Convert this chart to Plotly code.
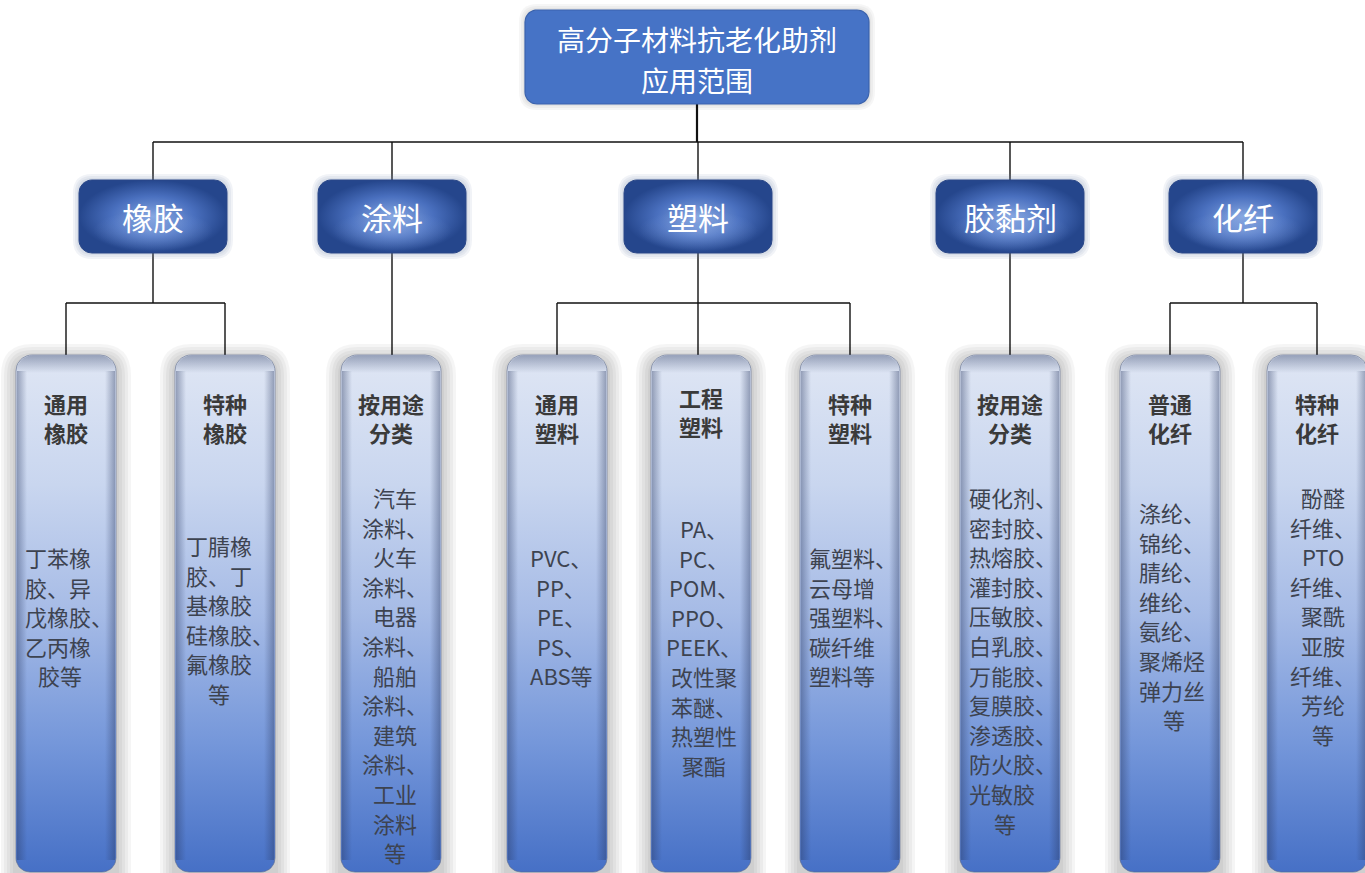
import math
import plotly.graph_objects as go

# ---------------- data ----------------
root_lines = ["高分子材料抗老化助剂", "应用范围"]
level2 = ["橡胶", "涂料", "塑料", "胶黏剂", "化纤"]
leaf_parent = [0, 0, 1, 2, 2, 2, 3, 4, 4]
leaf_headers = [
    ["通用", "橡胶"], ["特种", "橡胶"], ["按用途", "分类"],
    ["通用", "塑料"], ["工程", "塑料"], ["特种", "塑料"],
    ["按用途", "分类"], ["普通", "化纤"], ["特种", "化纤"],
]
leaf_bodies = [
    ["丁苯橡", "胶、异", "戊橡胶、", "乙丙橡", "胶等"],
    ["丁腈橡", "胶、丁", "基橡胶", "硅橡胶、", "氟橡胶", "等"],
    ["汽车", "涂料、", "火车", "涂料、", "电器", "涂料、", "船舶", "涂料、", "建筑", "涂料、", "工业", "涂料", "等"],
    ["PVC、", "PP、", "PE、", "PS、", "ABS等"],
    ["PA、", "PC、", "POM、", "PPO、", "PEEK、", "改性聚", "苯醚、", "热塑性", "聚酯"],
    ["氟塑料、", "云母增", "强塑料、", "碳纤维", "塑料等"],
    ["硬化剂、", "密封胶、", "热熔胶、", "灌封胶、", "压敏胶、", "白乳胶、", "万能胶、", "复膜胶、", "渗透胶、", "防火胶、", "光敏胶", "等"],
    ["涤纶、", "锦纶、", "腈纶、", "维纶、", "氨纶、", "聚烯烃", "弹力丝", "等"],
    ["酚醛", "纤维、", "PTO", "纤维、", "聚酰", "亚胺", "纤维、", "芳纶", "等"],
]

# ---------------- layout (pixel positions / styles) ----------------
W, H = 1365, 873
root_box = (525, 10, 869, 104)
root_cx = 697
root_line_y = [38.5, 79.5]
l2_cx = [153, 392, 698, 1010, 1243]
l2_w, l2_top, l2_bot = 148, 180, 253
bus_y1 = 142
l3_cx = [66, 225, 391, 557, 701, 850, 1010, 1170, 1317]
l3_w, l3_top, l3_bot = 100, 355, 872
bus_y2 = 303
header_y = [403, 403, 403, 403, 397, 403, 403, 403, 403]
body_y = [557, 545, 497, 557, 528, 557, 497, 512, 497]
# paragraph style: "L" = justified (left-aligned, last line centred), "C" = centred
body_mode = ["L", "L", "C", "C", "C", "L", "L", "L", "C"]
body_left = [23, 184, 0, 0, 0, 807, 967, 1137, 0]
body_center = [60, 219, 395, 561, 704, 842, 1005, 1174, 1323]
line_gap = 29.6
FONT = "Noto Sans CJK SC, Microsoft YaHei, sans-serif"


def rrect(x0, y0, x1, y1, rt, rb, n=10):
    xs, ys = [], []
    for i in range(n + 1):
        a = math.pi + (math.pi / 2) * i / n
        xs.append(x0 + rt + rt * math.cos(a)); ys.append(y0 + rt + rt * math.sin(a))
    for i in range(n + 1):
        a = 1.5 * math.pi + (math.pi / 2) * i / n
        xs.append(x1 - rt + rt * math.cos(a)); ys.append(y0 + rt + rt * math.sin(a))
    for i in range(n + 1):
        a = (math.pi / 2) * i / n
        xs.append(x1 - rb + rb * math.cos(a)); ys.append(y1 - rb + rb * math.sin(a))
    for i in range(n + 1):
        a = math.pi / 2 + (math.pi / 2) * i / n
        xs.append(x0 + rb + rb * math.cos(a)); ys.append(y1 - rb + rb * math.sin(a))
    xs.append(xs[0]); ys.append(ys[0])
    return xs, ys


def rpath(x0, y0, x1, y1, r):
    return (f"M{x0+r},{y0} L{x1-r},{y0} Q{x1},{y0} {x1},{y0+r} L{x1},{y1-r} "
            f"Q{x1},{y1} {x1-r},{y1} L{x0+r},{y1} Q{x0},{y1} {x0},{y1-r} "
            f"L{x0},{y0+r} Q{x0},{y0} {x0+r},{y0} Z")


fig = go.Figure()
shapes = []
annos = []


def line(x0, y0, x1, y1, w=1.4):
    shapes.append(dict(type="line", x0=x0, y0=y0, x1=x1, y1=y1, layer="below",
                       line=dict(color="#111111", width=w)))

# ---------------- connectors ----------------
line(root_cx, root_box[3], root_cx, bus_y1, 2.2)
line(l2_cx[0], bus_y1, l2_cx[-1], bus_y1)
for cx in l2_cx:
    line(cx, bus_y1, cx, l2_top)
for p, cx in enumerate(l2_cx):
    kids = [l3_cx[i] for i in range(len(leaf_parent)) if leaf_parent[i] == p]
    if len(kids) == 1:
        line(cx, l2_bot, cx, l3_top)
    else:
        line(cx, l2_bot, cx, bus_y2)
        line(min(kids), bus_y2, max(kids), bus_y2)
        for k in kids:
            kx = cx if abs(k - cx) < 8 else k
            line(kx, bus_y2, kx, l3_top)

# ---------------- glows ----------------
def glow(x0, y0, x1, y1, r, color, steps, step_px):
    for s in range(steps, 0, -1):
        d = s * step_px
        shapes.append(dict(type="path", path=rpath(x0 - d, y0 - d, x1 + d, y1 + d, r + d),
                           fillcolor=color, line=dict(width=0), layer="below"))

glow(*root_box, 12, "rgba(0,0,0,0.035)", 3, 2)
for cx in l2_cx:
    glow(cx - l2_w / 2, l2_top, cx + l2_w / 2, l2_bot, 13, "rgba(120,140,180,0.10)", 3, 2)
for cx in l3_cx:
    glow(cx - l3_w / 2, l3_top + 4, cx + l3_w / 2, l3_bot + 20, 16, "rgba(0,0,0,0.04)", 5, 3)

# ---------------- root box ----------------
xs, ys = rrect(*root_box, 12, 12)
fig.add_trace(go.Scatter(x=xs, y=ys, mode="lines", fill="toself", fillcolor="#4673c6",
                         line=dict(color="#3b63ad", width=1.2), hoverinfo="skip", showlegend=False))
for t, y in zip(root_lines, root_line_y):
    annos.append(dict(x=root_cx, y=y, text=t, showarrow=False,
                      xanchor="center", yanchor="middle",
                      font=dict(family=FONT, size=28, color="white")))

# ---------------- level 2 boxes ----------------
for cx, t in zip(l2_cx, level2):
    xs, ys = rrect(cx - l2_w / 2, l2_top, cx + l2_w / 2, l2_bot, 13, 13)
    fig.add_trace(go.Scatter(x=xs, y=ys, mode="lines", fill="toself",
                             fillgradient=dict(type="radial",
                                               colorscale=[[0, "#86a6e0"], [0.55, "#4a70bf"], [1, "#25468c"]]),
                             line=dict(color="#2a4788", width=1), hoverinfo="skip", showlegend=False))
    xs2, ys2 = rrect(cx - l2_w / 2 + 14, l2_top + 30, cx + l2_w / 2 - 14, l2_bot - 2, 10, 10)
    fig.add_trace(go.Scatter(x=xs2, y=ys2, mode="lines", fill="toself",
                             fillgradient=dict(type="radial",
                                               colorscale=[[0, "rgba(150,180,235,0.45)"], [1, "rgba(150,180,235,0)"]]),
                             line=dict(width=0), hoverinfo="skip", showlegend=False))
    annos.append(dict(x=cx, y=216, text=t, showarrow=False, xanchor="center", yanchor="middle",
                      font=dict(family=FONT, size=31, color="white")))

# ---------------- level 3 boxes ----------------
for i, cx in enumerate(l3_cx):
    x0, x1 = cx - l3_w / 2, cx + l3_w / 2
    xs, ys = rrect(x0, l3_top, x1, l3_bot, 16, 14)
    fig.add_trace(go.Scatter(x=xs, y=ys, mode="lines", fill="toself",
                             fillgradient=dict(type="vertical", start=l3_top, stop=l3_bot,
                                               colorscale=[[0, "#dfe6f4"], [0.25, "#c9d6ef"],
                                                           [0.5, "#a6bbe6"], [0.75, "#7597da"],
                                                           [1, "#4670c6"]]),
                             line=dict(color="rgba(90,105,140,0.6)", width=1),
                             hoverinfo="skip", showlegend=False))
    for side in (0, 1):
        ex0, ex1 = (x0 + 1, x0 + 11) if side == 0 else (x1 - 11, x1 - 1)
        exs = [ex0, ex1, ex1, ex0, ex0]
        eys = [l3_top + 16, l3_top + 16, l3_bot - 12, l3_bot - 12, l3_top + 16]
        cs = ([[0, "rgba(40,55,95,0.40)"], [1, "rgba(40,55,95,0)"]] if side == 0
              else [[0, "rgba(40,55,95,0)"], [1, "rgba(40,55,95,0.40)"]])
        fig.add_trace(go.Scatter(x=exs, y=eys, mode="lines", fill="toself",
                                 fillgradient=dict(type="horizontal", start=ex0, stop=ex1, colorscale=cs),
                                 line=dict(width=0), hoverinfo="skip", showlegend=False))
    txs, tys = rrect(x0 + 0.5, l3_top + 0.5, x1 - 0.5, l3_top + 18, 16, 0)
    fig.add_trace(go.Scatter(x=txs, y=tys, mode="lines", fill="toself",
                             fillgradient=dict(type="vertical", start=l3_top, stop=l3_top + 18,
                                               colorscale=[[0, "rgba(40,55,95,0.40)"], [1, "rgba(40,55,95,0)"]]),
                             line=dict(width=0), hoverinfo="skip", showlegend=False))

    for j, t in enumerate(leaf_headers[i]):
        annos.append(dict(x=cx, y=header_y[i] + 29 * j, text=f"<b>{t}</b>", showarrow=False,
                          xanchor="center", yanchor="middle",
                          font=dict(family=FONT, size=22, color="#3a3a3a")))
    lines_ = leaf_bodies[i]
    for j, t in enumerate(lines_):
        last = j == len(lines_) - 1
        if body_mode[i] == "L" and not (last and len(t) < 3):
            x, xa = body_left[i], "left"
        else:
            x, xa = body_center[i], "center"
        annos.append(dict(x=x, y=body_y[i] + line_gap * j, text=t, showarrow=False,
                          xanchor=xa, yanchor="middle",
                          font=dict(family=FONT, size=22, color="#3d4350")))

fig.update_layout(
    width=W, height=H, margin=dict(l=0, r=0, t=0, b=0),
    paper_bgcolor="white", plot_bgcolor="white",
    xaxis=dict(range=[0, W], visible=False, fixedrange=True),
    yaxis=dict(range=[H, 0], visible=False, fixedrange=True),
    shapes=shapes, annotations=annos, showlegend=False,
)
fig.write_html("out.html")
